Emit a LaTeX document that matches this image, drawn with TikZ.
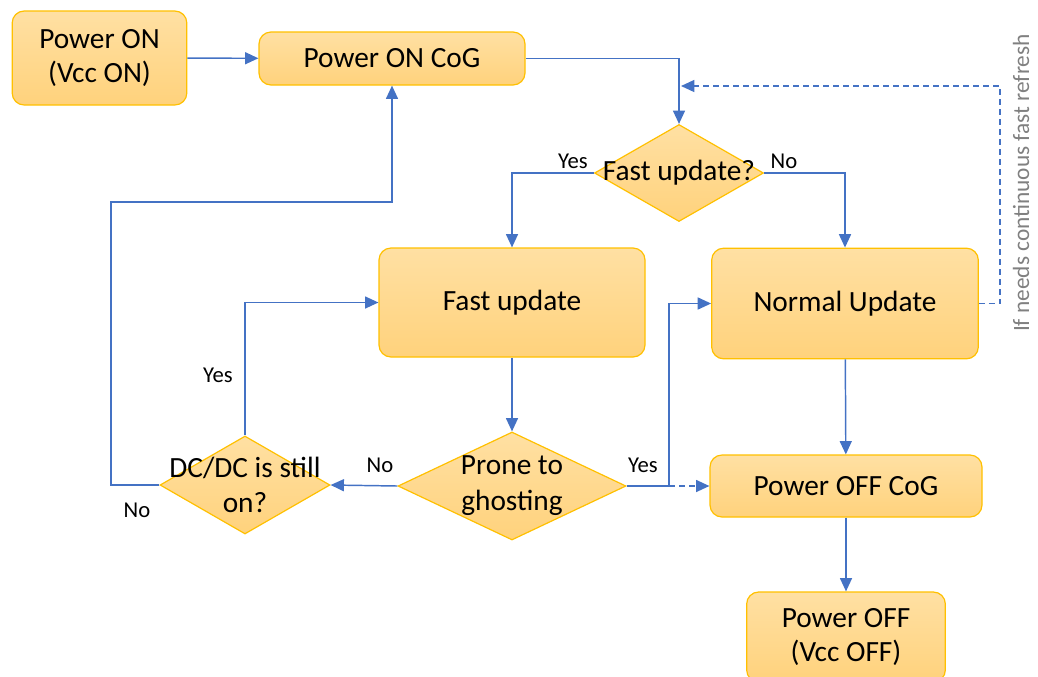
\documentclass[tikz,border=0pt]{standalone}
\usepackage{fontspec}
\setmainfont{Carlito}
\usetikzlibrary{shapes.geometric,arrows.meta}

\definecolor{boxtop}{HTML}{FFE0A3}
\definecolor{boxbot}{HTML}{FFD27C}
\definecolor{boxline}{HTML}{FFC000}
\definecolor{flowblue}{HTML}{4472C4}
\definecolor{notegray}{HTML}{808080}

\begin{document}
\begin{tikzpicture}[x=0.75pt, y=-0.75pt,
    blk/.style={draw=boxline, line width=0.9pt, rounded corners=9pt, top color=boxtop, bottom color=boxbot,
        font=\fontsize{22}{26}\selectfont, align=center, inner sep=0pt},
    dec/.style={diamond, draw=boxline, line width=0.9pt, top color=boxtop, bottom color=boxbot, inner sep=0pt},
    dectext/.style={font=\fontsize{22}{26}\selectfont, align=center},
    flow/.style={draw=flowblue, line width=1.1pt, -{Triangle[length=10pt,width=9pt]}},
    lbl/.style={font=\fontsize{17}{20}\selectfont, inner sep=0pt}]
    \useasboundingbox (0,0) rectangle (1038,676);

    \node[blk, minimum width=131pt, minimum height=70.5pt] (pon) at (99.5,58) {Power ON\\(Vcc ON)};
    \node[blk, minimum width=199.5pt, minimum height=39.75pt] (cog) at (392,58.5) {Power ON CoG};
    \node[dec, minimum width=126.75pt, minimum height=72.75pt,
        label={[dectext]center:Fast update?}] (fastq) at (679,173) {};
    \node[blk, minimum width=199.5pt, minimum height=81.75pt] (fast) at (512,302.5) {Fast update};
    \node[blk, minimum width=200pt, minimum height=83pt] (norm) at (845,303.5) {Normal Update};
    \node[dec, minimum width=171pt, minimum height=81pt,
        label={[dectext, font=\fontsize{22}{27}\selectfont]center:Prone to\\ghosting}] (prone) at (512,486) {};
    \node[dec, minimum width=127.5pt, minimum height=73.5pt,
        label={[dectext]center:DC/DC is still\\on?}] (dcdc) at (245,485) {};
    \node[blk, minimum width=204pt, minimum height=46.5pt] (poffcog) at (846,486) {Power OFF CoG};
    \node[blk, minimum width=149pt, minimum height=67.5pt] (poff) at (846,637) {Power OFF\\(Vcc OFF)};

    \node[rotate=90, text=notegray, font=\fontsize{17.5}{20}\selectfont] (note) at (1021,183) {If needs continuous fast refresh};

    \node[lbl] (yes1) at (573,161) {Yes};
    \node[lbl] (no1) at (784,161) {No};
    \node[lbl] (yes2) at (218,375) {Yes};
    \node[lbl] (no2) at (380,465) {No};
    \node[lbl] (yes3) at (643,465) {Yes};
    \node[lbl] (no3) at (137,510) {No};

    \coordinate (loopout) at (1000,86);
    \coordinate (loopin) at (681,86);
    \coordinate (split) at (669,486);
    \coordinate (back) at (111,202);

    \draw[flow] (pon) -- (cog);
    \draw[flow] (cog.east) -| (fastq.north);
    \draw[flow] (fastq.west) -| (fast.north);
    \draw[flow] (fastq.east) -| (norm.north);
    \draw[flow, dash pattern=on 4.5pt off 3pt] (norm.east) -| (loopout) -- (loopin);
    \draw[flow] (fast) -- (prone);
    \draw[flow] (prone.west) -- (dcdc.east);
    \draw[flow] (prone.east) -- (split) |- (norm.west);
    \draw[flow, dash pattern=on 4.5pt off 3pt] (split) -- (poffcog.west);
    \draw[flow] (dcdc.north) |- (fast.west);
    \draw[flow] (dcdc.west) -| (back) -| (cog.south);
    \draw[flow] (norm) -- (poffcog);
    \draw[flow] (poffcog) -- (poff);
\end{tikzpicture}
\end{document}
